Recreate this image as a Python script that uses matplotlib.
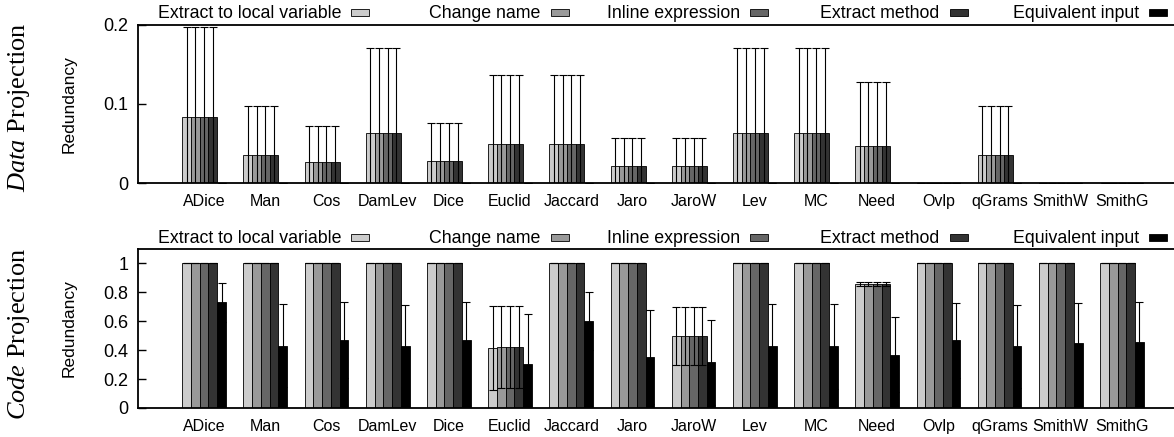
import numpy as np
import matplotlib
matplotlib.use("Agg")
import matplotlib.pyplot as plt
from matplotlib.patches import Rectangle

plt.rcParams['font.family'] = ['Liberation Sans', 'DejaVu Sans']
plt.rcParams['mathtext.fontset'] = 'custom'
plt.rcParams['mathtext.it'] = 'Liberation Serif:italic'
plt.rcParams['mathtext.rm'] = 'Liberation Serif'

methods = ['ADice', 'Man', 'Cos', 'DamLev', 'Dice', 'Euclid', 'Jaccard', 'Jaro',
           'JaroW', 'Lev', 'MC', 'Need', 'Ovlp', 'qGrams', 'SmithW', 'SmithG']
series = ['Extract to local variable', 'Change name', 'Inline expression',
          'Extract method', 'Equivalent input']
colors = ['#cccccc', '#999999', '#666666', '#333333', '#000000']

# Data projection (top panel)
data_local = [0.083, 0.036, 0.027, 0.063, 0.028, 0.050, 0.050, 0.022, 0.022, 0.063, 0.063, 0.047, 0, 0.036, 0, 0]
data_rename = [0.083, 0.036, 0.027, 0.063, 0.028, 0.050, 0.050, 0.022, 0.022, 0.063, 0.063, 0.047, 0, 0.036, 0, 0]
data_inline = [0.083, 0.036, 0.027, 0.063, 0.028, 0.050, 0.050, 0.022, 0.022, 0.063, 0.063, 0.047, 0, 0.036, 0, 0]
data_method = [0.083, 0.036, 0.027, 0.063, 0.028, 0.050, 0.050, 0.022, 0.022, 0.063, 0.063, 0.047, 0, 0.036, 0, 0]
data_equiv = [0] * 16
data_err = [0.114, 0.061, 0.045, 0.108, 0.048, 0.087, 0.087, 0.035, 0.035, 0.108, 0.108, 0.081, 0, 0.061, 0, 0]
data_equiv_err = [0] * 16

# Code projection (bottom panel)
code_local = [1, 1, 1, 1, 1, 0.415, 1, 1, 0.5, 1, 1, 0.857, 1, 1, 1, 1]
code_rename = [1, 1, 1, 1, 1, 0.422, 1, 1, 0.5, 1, 1, 0.857, 1, 1, 1, 1]
code_inline = [1, 1, 1, 1, 1, 0.422, 1, 1, 0.5, 1, 1, 0.857, 1, 1, 1, 1]
code_method = [1, 1, 1, 1, 1, 0.422, 1, 1, 0.5, 1, 1, 0.857, 1, 1, 1, 1]
code_equiv = [0.733, 0.432, 0.469, 0.427, 0.470, 0.305, 0.600, 0.352,
              0.315, 0.426, 0.426, 0.370, 0.468, 0.426, 0.448, 0.455]
code_local_err = [0, 0, 0, 0, 0, 0.29, 0, 0, 0.2, 0, 0, 0.016, 0, 0, 0, 0]
code_err = [0, 0, 0, 0, 0, 0.287, 0, 0, 0.2, 0, 0, 0.016, 0, 0, 0, 0]
code_equiv_err = [0.135, 0.287, 0.261, 0.289, 0.262, 0.345, 0.200, 0.324,
                  0.296, 0.292, 0.292, 0.260, 0.261, 0.290, 0.281, 0.280]

W, H = 1174, 437
fig = plt.figure(figsize=(W / 100, H / 100), dpi=100)


def px_axes(left, top, right, bottom):
    return fig.add_axes([left / W, 1 - bottom / H, (right - left) / W, (bottom - top) / H])


def panel(ax, vals, errs, ylim, yticks, yticklabels):
    x = np.arange(len(methods))
    for j, (v, e) in enumerate(zip(vals, errs)):
        pos = x + (j - 2) / 7
        ax.bar(pos, v, width=1 / 7, color=colors[j], edgecolor='black', linewidth=0.6, zorder=2)
        ax.errorbar(pos, v, yerr=e, fmt='none', ecolor='black', elinewidth=0.8,
                    capsize=3, capthick=0.8, zorder=3)
    ax.set_xlim(-1.08, 15.85)
    ax.set_ylim(*ylim)
    ax.set_yticks(yticks)
    ax.set_yticklabels(yticklabels, fontsize=13)
    ax.set_xticks(x)
    ax.set_xticklabels(methods, fontsize=11.5)
    ax.tick_params(axis='x', length=0, pad=8)
    ax.tick_params(axis='y', direction='in', length=6, width=1, pad=7)
    ax.spines['right'].set_visible(False)
    for s in ['left', 'top', 'bottom']:
        ax.spines[s].set_linewidth(1.3)
    ax.set_ylabel('Redundancy', fontsize=12.5)
    ax.yaxis.set_label_coords(-0.059, 0.5)


def legend(y):
    for j, name in enumerate(series):
        cx = 360 + 199.5 * j
        fig.text((cx - 19) / W, 1 - (y + 5.5) / H, name, ha='right', va='baseline', fontsize=12.8)
        fig.patches.append(Rectangle(((cx - 9) / W, 1 - (y + 3.5) / H), 18 / W, 7 / H,
                                     facecolor=colors[j], edgecolor='black', linewidth=0.6,
                                     transform=fig.transFigure, figure=fig))


ax1 = px_axes(138, 25, W, 183)
panel(ax1, [data_local, data_rename, data_inline, data_method, data_equiv],
      [data_err, data_err, data_err, data_err, data_equiv_err],
      (0, 0.2), [0, 0.1, 0.2], ['0', '0.1', '0.2'])

ax2 = px_axes(138, 249, W, 408)
panel(ax2, [code_local, code_rename, code_inline, code_method, code_equiv],
      [code_local_err, code_err, code_err, code_err, code_equiv_err],
      (0, 1.1), [0, 0.2, 0.4, 0.6, 0.8, 1], ['0', '0.2', '0.4', '0.6', '0.8', '1'])

legend(12)
legend(237.5)

fig.text(19 / W, 1 - 107 / H, r'$\mathit{Data}$ Projection', rotation=90, ha='center', va='center',
         fontsize=19, family='Liberation Serif')
fig.text(19 / W, 1 - 334 / H, r'$\mathit{Code}$ Projection', rotation=90, ha='center', va='center',
         fontsize=19, family='Liberation Serif')

fig.savefig('out.png', dpi=100)
